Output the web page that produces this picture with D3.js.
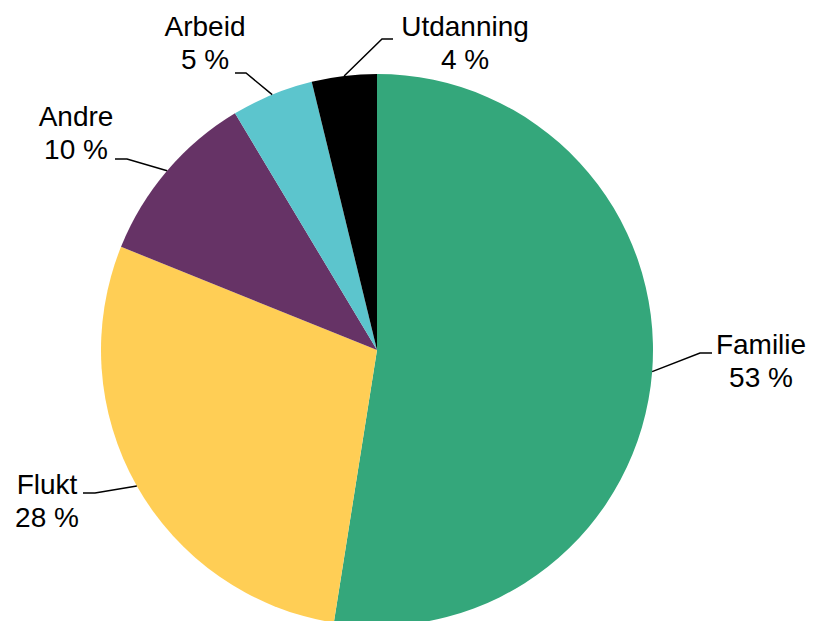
<!DOCTYPE html>
<html>
<head>
<meta charset="utf-8">
<script src="https://cdn.jsdelivr.net/npm/d3@7"></script>
<style>
  html, body { margin: 0; padding: 0; background: #fff; }
  svg text { font-family: "Liberation Sans", Arial, sans-serif; font-size: 28px; fill: #000; }
</style>
</head>
<body>
<svg id="pieChart"></svg>
<script>
const categories = ["Familie", "Flukt", "Andre", "Arbeid", "Utdanning"];
const shares = [52.5, 28.6, 10.3, 4.8, 3.8];
const shareLabels = ["53 %", "28 %", "10 %", "5 %", "4 %"];
const colors = ["#34a77b", "#ffce55", "#663366", "#5cc5cd", "#000000"];

// label placement: text centre x, first baseline, leader elbow and end
const labelLayout = [
    { x: 761, y: 354, elbow: [700, 353], end: [712, 353] },
    { x: 47, y: 494, elbow: [95, 493], end: [83, 493] },
    { x: 76, y: 126, elbow: [127, 159], end: [115, 159] },
    { x: 205, y: 36, elbow: [246, 73], end: [235, 73] },
    { x: 465, y: 36, elbow: [382, 39], end: [393, 39] }
];

const svg = d3.select("#pieChart")
    .attr("width", 813)
    .attr("height", 621);

const centerX = 377;
const centerY = 350;
const radius = 276;
const lineGap = 33;

const data = categories.map((c, i) => ({ name: c, value: shares[i], label: shareLabels[i], color: colors[i], layout: labelLayout[i] }));

const pie = d3.pie()
    .value(d => d.value)
    .sort(null);

const arc = d3.arc()
    .innerRadius(0)
    .outerRadius(radius);

const arcs = pie(data);

const g = svg.append("g")
    .attr("transform", `translate(${centerX},${centerY})`);

g.selectAll("path")
    .data(arcs)
    .join("path")
    .attr("d", arc)
    .attr("fill", d => d.data.color);

// leader lines from the middle of each slice's outer edge
arcs.forEach(d => {
    const mid = (d.startAngle + d.endAngle) / 2;
    const sx = centerX + radius * Math.sin(mid);
    const sy = centerY - radius * Math.cos(mid);
    const lay = d.data.layout;
    svg.append("polyline")
        .attr("points", [[sx, sy], lay.elbow, lay.end].map(p => p.join(",")).join(" "))
        .attr("fill", "none")
        .attr("stroke", "#000")
        .attr("stroke-width", 1.5);

    const txt = svg.append("text")
        .attr("text-anchor", "middle");
    txt.append("tspan")
        .attr("x", lay.x)
        .attr("y", lay.y)
        .text(d.data.name);
    txt.append("tspan")
        .attr("x", lay.x)
        .attr("y", lay.y + lineGap)
        .text(d.data.label);
});
</script>
</body>
</html>
